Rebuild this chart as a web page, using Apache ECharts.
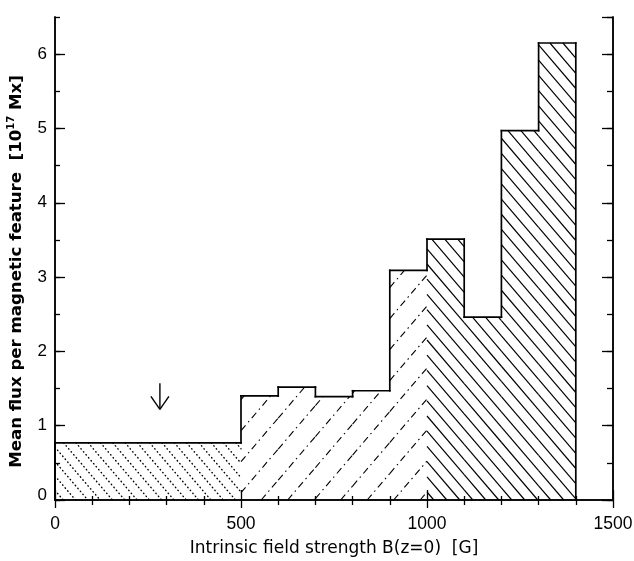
<!DOCTYPE html>
<html><head><meta charset="utf-8">
<script src="https://cdn.jsdelivr.net/npm/echarts/dist/echarts.min.js"></script>
<style>html,body{margin:0;padding:0;background:#fff}#c{width:634px;height:561px}</style>
</head><body><div id="c"></div>
<script>
// ---- data ----
const binEdges = [0, 500, 600, 700, 800, 900, 1000, 1100, 1200, 1300, 1400];
const fluxValues = [0.77, 1.40, 1.52, 1.39, 1.47, 3.09, 3.51, 2.46, 4.97, 6.15];
const hatchGroup = [0, 1, 1, 1, 1, 1, 2, 2, 2, 2];
const arrowX = [282, 282];
const arrowY = [1.57, 1.22];
const xTickLabels = [0, 500, 1000, 1500];
const yTickLabels = [0, 1, 2, 3, 4, 5, 6];

// ---- styles ----
const hatchStyles = [
  {m: 1.17, vspace: 14.4, dash: [0.5, 3.4], cap: 'round', width: 1.4, anchorX: 500},
  {m: -1.17, vspace: 31, dash: [7, 4, 1.5, 4], cap: 'butt', width: 1.1, anchorX: 1000},
  {m: 1.17, vspace: 15.2, dash: null, cap: 'butt', width: 1.2, anchorX: 1000}
];
const FONT = 'Liberation Sans';
const TITLEFONT = 'DejaVu Sans';

const binData = fluxValues.map((v, i) => [
  binEdges[i], binEdges[i + 1], v, i === 0 ? 0 : fluxValues[i - 1], hatchGroup[i], i === fluxValues.length - 1 ? 1 : 0
]);

function hatchLines(left, top, right, bottom, st, ax, ay) {
  const out = [];
  const m = st.m;
  const base = ay - m * ax;
  const corners = [[left, top], [right, top], [left, bottom], [right, bottom]].map(p => p[1] - m * p[0]);
  const lo = Math.min.apply(null, corners), hi = Math.max.apply(null, corners);
  const k0 = Math.ceil((lo - base) / st.vspace), k1 = Math.floor((hi - base) / st.vspace);
  for (let k = k0; k <= k1; k++) {
    const c = base + k * st.vspace;
    const xa = (top - c) / m, xb = (bottom - c) / m;
    const x1 = Math.max(left, Math.min(xa, xb)), x2 = Math.min(right, Math.max(xa, xb));
    if (x2 - x1 < 0.5) continue;
    out.push({
      type: 'line', silent: true,
      shape: {x1: x1, y1: c + m * x1, x2: x2, y2: c + m * x2},
      style: {stroke: '#000', lineWidth: st.width, lineDash: st.dash, lineCap: st.cap, fill: null}
    });
  }
  return out;
}

function renderBin(params, api) {
  const x0 = api.value(0), x1 = api.value(1), v = api.value(2), pv = api.value(3), g = api.value(4), last = api.value(5);
  const tl = api.coord([x0, v]), br = api.coord([x1, 0]), pl = api.coord([x0, pv]);
  const st = hatchStyles[g];
  const anc = api.coord([st.anchorX, 0]);
  const children = hatchLines(tl[0], tl[1], br[0], br[1], st, anc[0], anc[1] - 8);
  const ol = {stroke: '#000', lineWidth: 1.7, fill: null, lineCap: 'square'};
  children.push({type: 'line', shape: {x1: tl[0], y1: tl[1], x2: br[0], y2: tl[1]}, style: ol});
  children.push({type: 'line', shape: {x1: tl[0], y1: pl[1], x2: tl[0], y2: tl[1]}, style: ol});
  if (last) children.push({type: 'line', shape: {x1: br[0], y1: tl[1], x2: br[0], y2: br[1]}, style: ol});
  return {type: 'group', children: children};
}

function renderArrow(params, api) {
  const a = api.coord([api.value(0), api.value(1)]);
  const b = api.coord([api.value(2), api.value(3)]);
  const s = {stroke: '#000', lineWidth: 1.4, fill: null};
  return {type: 'group', children: [
    {type: 'line', shape: {x1: a[0], y1: a[1], x2: b[0], y2: b[1]}, style: s},
    {type: 'line', shape: {x1: b[0] - 9, y1: b[1] - 13, x2: b[0], y2: b[1]}, style: s},
    {type: 'line', shape: {x1: b[0] + 9, y1: b[1] - 13, x2: b[0], y2: b[1]}, style: s}
  ]};
}

const axLine = {show: true, lineStyle: {color: '#000', width: 1.5}};
const tickStyle = {color: '#000', width: 1.3};
function yAx(pos, interval, len, labels, extra) {
  return Object.assign({
    type: 'value', position: pos, min: yTickLabels[0], max: 6.5, interval: interval,
    axisLine: axLine, splitLine: {show: false},
    axisTick: {show: true, inside: true, length: len, lineStyle: tickStyle},
    axisLabel: labels ? {
      show: true, color: '#000', fontFamily: FONT, fontSize: 17, margin: 8, showMaxLabel: false,
      formatter: v => (yTickLabels.indexOf(v) < 0 ? '' : (v === 0 ? '{z|0}' : String(v))),
      rich: {z: {fontFamily: FONT, fontSize: 17, color: '#000', padding: [0, 0, 10, 0]}}
    } : {show: false}
  }, extra || {});
}

const chart = echarts.init(document.getElementById('c'), null, {renderer: 'canvas'});
chart.setOption({
  animation: false,
  backgroundColor: '#fff',
  grid: {left: 55, right: 21, top: 17, bottom: 61, containLabel: false, outerBoundsMode: 'none'},
  xAxis: [
    {
      type: 'value', position: 'bottom', min: xTickLabels[0], max: xTickLabels[xTickLabels.length - 1], interval: 500,
      axisLine: axLine, splitLine: {show: false},
      axisTick: {show: true, inside: false, length: 8, lineStyle: tickStyle},
      minorTick: {show: true, splitNumber: 5, length: 5, lineStyle: tickStyle},
      axisLabel: {show: true, color: '#000', fontFamily: FONT, fontSize: 17.5, margin: 15,
        formatter: v => (xTickLabels.indexOf(v) < 0 ? '' : String(v))},
      name: 'Intrinsic field strength B(z=0)  [G]', nameLocation: 'middle', nameGap: 40,
      nameTextStyle: {color: '#000', fontFamily: TITLEFONT, fontSize: 17}
    },
    {
      type: 'value', position: 'top', min: xTickLabels[0], max: xTickLabels[xTickLabels.length - 1], interval: 500,
      axisLine: axLine, splitLine: {show: false},
      axisTick: {show: true, inside: false, length: 10, lineStyle: tickStyle},
      minorTick: {show: true, splitNumber: 5, length: 4, lineStyle: tickStyle},
      axisLabel: {show: false}
    }
  ],
  yAxis: [
    yAx('left', 1, 10, true, {
      name: 'Mean flux per magnetic feature  [10{sup|17} Mx]', nameLocation: 'middle', nameGap: 27,
      nameTextStyle: {color: '#000', fontFamily: TITLEFONT, fontSize: 16.6, fontWeight: 'bold', padding: [0, 26, 0, 0],
        rich: {sup: {fontFamily: TITLEFONT, fontSize: 10, fontWeight: 'bold', color: '#000', padding: [0, 0, 12, 0]}}}
    }),
    yAx('left', 0.5, 5, false),
    yAx('right', 1, 11, false),
    yAx('right', 0.5, 6, false)
  ],
  series: [
    {type: 'custom', xAxisIndex: 0, yAxisIndex: 0, renderItem: renderBin, data: binData, clip: false, silent: true},
    {type: 'custom', xAxisIndex: 0, yAxisIndex: 0, renderItem: renderArrow,
      data: [[arrowX[0], arrowY[0], arrowX[1], arrowY[1]]], silent: true}
  ]
});
</script></body></html>
